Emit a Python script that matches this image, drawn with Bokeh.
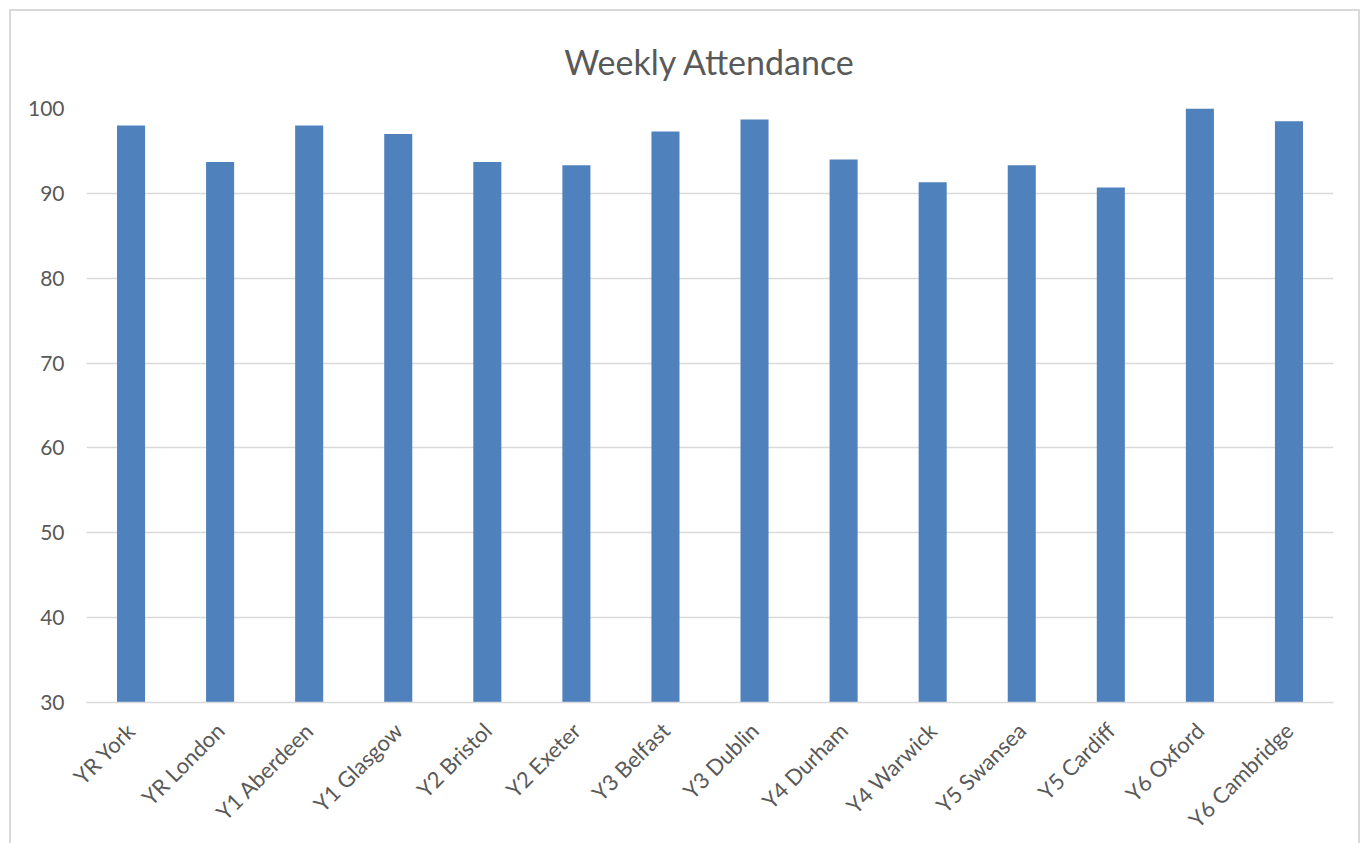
import math
from bokeh.plotting import figure
from bokeh.models import Range1d, ColumnDataSource
from bokeh.embed import file_html
from bokeh.resources import INLINE

categories = ["YR York", "YR London", "Y1 Aberdeen", "Y1 Glasgow", "Y2 Bristol", "Y2 Exeter",
              "Y3 Belfast", "Y3 Dublin", "Y4 Durham", "Y4 Warwick", "Y5 Swansea", "Y5 Cardiff",
              "Y6 Oxford", "Y6 Cambridge"]
attendance = [98.0, 93.7, 98.0, 97.0, 93.7, 93.3, 97.3, 98.7, 94.0, 91.3, 93.3, 90.7, 100.0, 98.5]

FONT = "Lato"
TEXT = "#595959"
GRID = "#d9d9d9"

src = ColumnDataSource(dict(cat=categories, val=attendance))

p = figure(x_range=categories, y_range=Range1d(30, 100), width=1351, height=834,
           output_backend="svg", toolbar_location=None,
           min_border_left=75, min_border_right=29, min_border_top=96, min_border_bottom=135)

p.vbar(x="cat", top="val", bottom=30, width=0.315, source=src,
       fill_color="#4f81bd", line_color=None)

p.title.text = "Weekly Attendance"
p.title.align = "center"
p.title.text_font = FONT
p.title.text_font_size = "34px"
p.title.text_font_style = "normal"
p.title.text_color = TEXT
p.title.standoff = 54

p.outline_line_color = None
p.xgrid.grid_line_color = None
p.ygrid.grid_line_color = GRID
p.ygrid.grid_line_width = 1.5

p.yaxis.ticker = [30, 40, 50, 60, 70, 80, 90, 100]
p.yaxis.axis_line_color = None
p.yaxis.major_tick_line_color = None
p.yaxis.minor_tick_line_color = None
p.yaxis.major_label_text_font = FONT
p.yaxis.major_label_text_font_size = "21px"
p.yaxis.major_label_text_color = TEXT
p.yaxis.major_label_standoff = 16

p.xaxis.axis_line_color = GRID
p.xaxis.axis_line_width = 1.5
p.xaxis.major_tick_line_color = None
p.xaxis.minor_tick_line_color = None
p.xaxis.major_label_orientation = math.pi / 4
p.xaxis.major_label_text_font = FONT
p.xaxis.major_label_text_font_size = "22px"
p.xaxis.major_label_text_color = TEXT
p.xaxis.major_label_standoff = 18

p.styles = {"border-left": "2px solid #d9d9d9", "border-top": "2px solid #d9d9d9",
            "border-right": "2px solid #d9d9d9", "box-sizing": "border-box",
            "margin": "9px 0 0 9px"}

open("out.html", "w").write(file_html(p, INLINE))
